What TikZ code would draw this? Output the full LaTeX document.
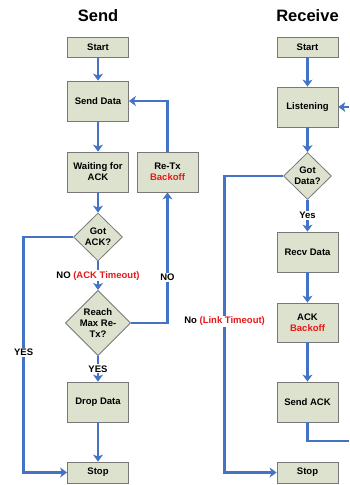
\documentclass[tikz,border=0pt]{standalone}
\usepackage{fontspec}
\setmainfont{Liberation Sans}
\usepackage{tikz}
\usetikzlibrary{arrows.meta,shapes.geometric}
\usepackage{xcolor}
\definecolor{flowblue}{RGB}{68,114,196}
\definecolor{flowred}{RGB}{230,25,25}
\definecolor{boxfill}{RGB}{221,226,206}
\definecolor{boxline}{RGB}{120,120,120}
\newcommand{\boxfont}{\bfseries\fontsize{9.5}{11}\selectfont}
\newcommand{\titlefont}{\bfseries\fontsize{16.5}{18}\selectfont}
\tikzstyle{arrow} = [line width=2.6pt,-{Stealth[length=7pt,width=10pt,inset=2pt]},color=flowblue]
\tikzstyle{line} = [line width=2.6pt,color=flowblue]
\tikzstyle{box} = [draw=boxline,fill=boxfill,line width=0.8pt,minimum width=61pt,minimum height=40pt,inner sep=0pt,align=center,font=\boxfont]
\tikzstyle{startbox} = [box,minimum height=20pt]
\tikzstyle{decision} = [diamond,draw=boxline,fill=boxfill,line width=0.8pt,inner sep=0pt,align=center,font=\boxfont]
\tikzstyle{lbl} = [fill=white,text=black,inner sep=1pt,font=\boxfont]

\begin{document}
\begin{tikzpicture}[x=1pt,y=-1pt]
\useasboundingbox (0,0) rectangle (349,485);

% Titles
\node[font=\titlefont] (sendtitle) at (98,16) {Send};
\node[font=\titlefont] (recvtitle) at (307.5,16) {Receive};

% Send side
\node[startbox] (sstart) at (98,47) {Start};
\node[box] (ssend) at (98,101) {Send Data};
\node[box] (swait) at (98,172) {Waiting for\\ACK};
\node[box] (retx) at (167.5,172) {Re-Tx\\\textcolor{flowred}{Backoff}};
\node[decision,minimum width=49pt,minimum height=48pt] (gotack) at (98,237) {Got\\ACK?};
\node[decision,minimum width=62pt,minimum height=60pt] (reach) at (98,323) {Reach\\Max Re-\\Tx?};
\node[box] (drop) at (98,402) {Drop Data};
\node[startbox,minimum height=21pt] (sstop) at (98,472.5) {Stop};

% Receive side
\node[startbox] (rstart) at (307.5,47) {Start};
\node[box] (listen) at (307.5,107) {Listening};
\node[decision,minimum width=48pt,minimum height=47pt] (gotdata) at (307.5,176) {Got\\Data?};
\node[box] (recv) at (307.5,252) {Recv Data};
\node[box,minimum height=39pt] (ackb) at (307.5,322.5) {ACK\\\textcolor{flowred}{Backoff}};
\node[box] (sendack) at (307.5,402) {Send ACK};
\node[startbox,minimum height=21pt] (rstop) at (307.5,472.5) {Stop};

% loop ends cut at the right edge
\coordinate (redgeout) at (349,441);
\coordinate (redgein) at (349,107);

% Send arrows
\draw[arrow] (sstart) -- (ssend);
\draw[arrow] (ssend) -- (swait);
\draw[arrow] (swait) -- (gotack);
\draw[arrow] (gotack) -- node[lbl]{NO \textcolor{flowred}{(ACK Timeout)}} (reach);
\draw[arrow] (reach) -- node[lbl]{YES} (drop);
\draw[arrow] (drop) -- (sstop);
\draw[arrow] (gotack.west) -| node[lbl,pos=0.745]{YES} ([xshift=-43.5pt]sstop.west) -- (sstop.west);
\draw[arrow] (reach.east) -| node[lbl,pos=0.675]{NO} (retx.south);
\draw[arrow] (retx.north) |- (ssend.east);

% Receive arrows
\draw[arrow] (rstart) -- (listen);
\draw[arrow] (listen) -- (gotdata);
\draw[arrow] (gotdata) -- node[lbl]{Yes} (recv);
\draw[arrow] (recv) -- (ackb);
\draw[arrow] (ackb) -- (sendack);
\draw[arrow] (gotdata.west) -| node[lbl,pos=0.745]{No \textcolor{flowred}{(Link Timeout)}} ([xshift=-52pt]rstop.west) -- (rstop.west);
\draw[line] (sendack.south) |- (redgeout);
\draw[arrow] (redgein) -- (listen.east);
\end{tikzpicture}
\end{document}
